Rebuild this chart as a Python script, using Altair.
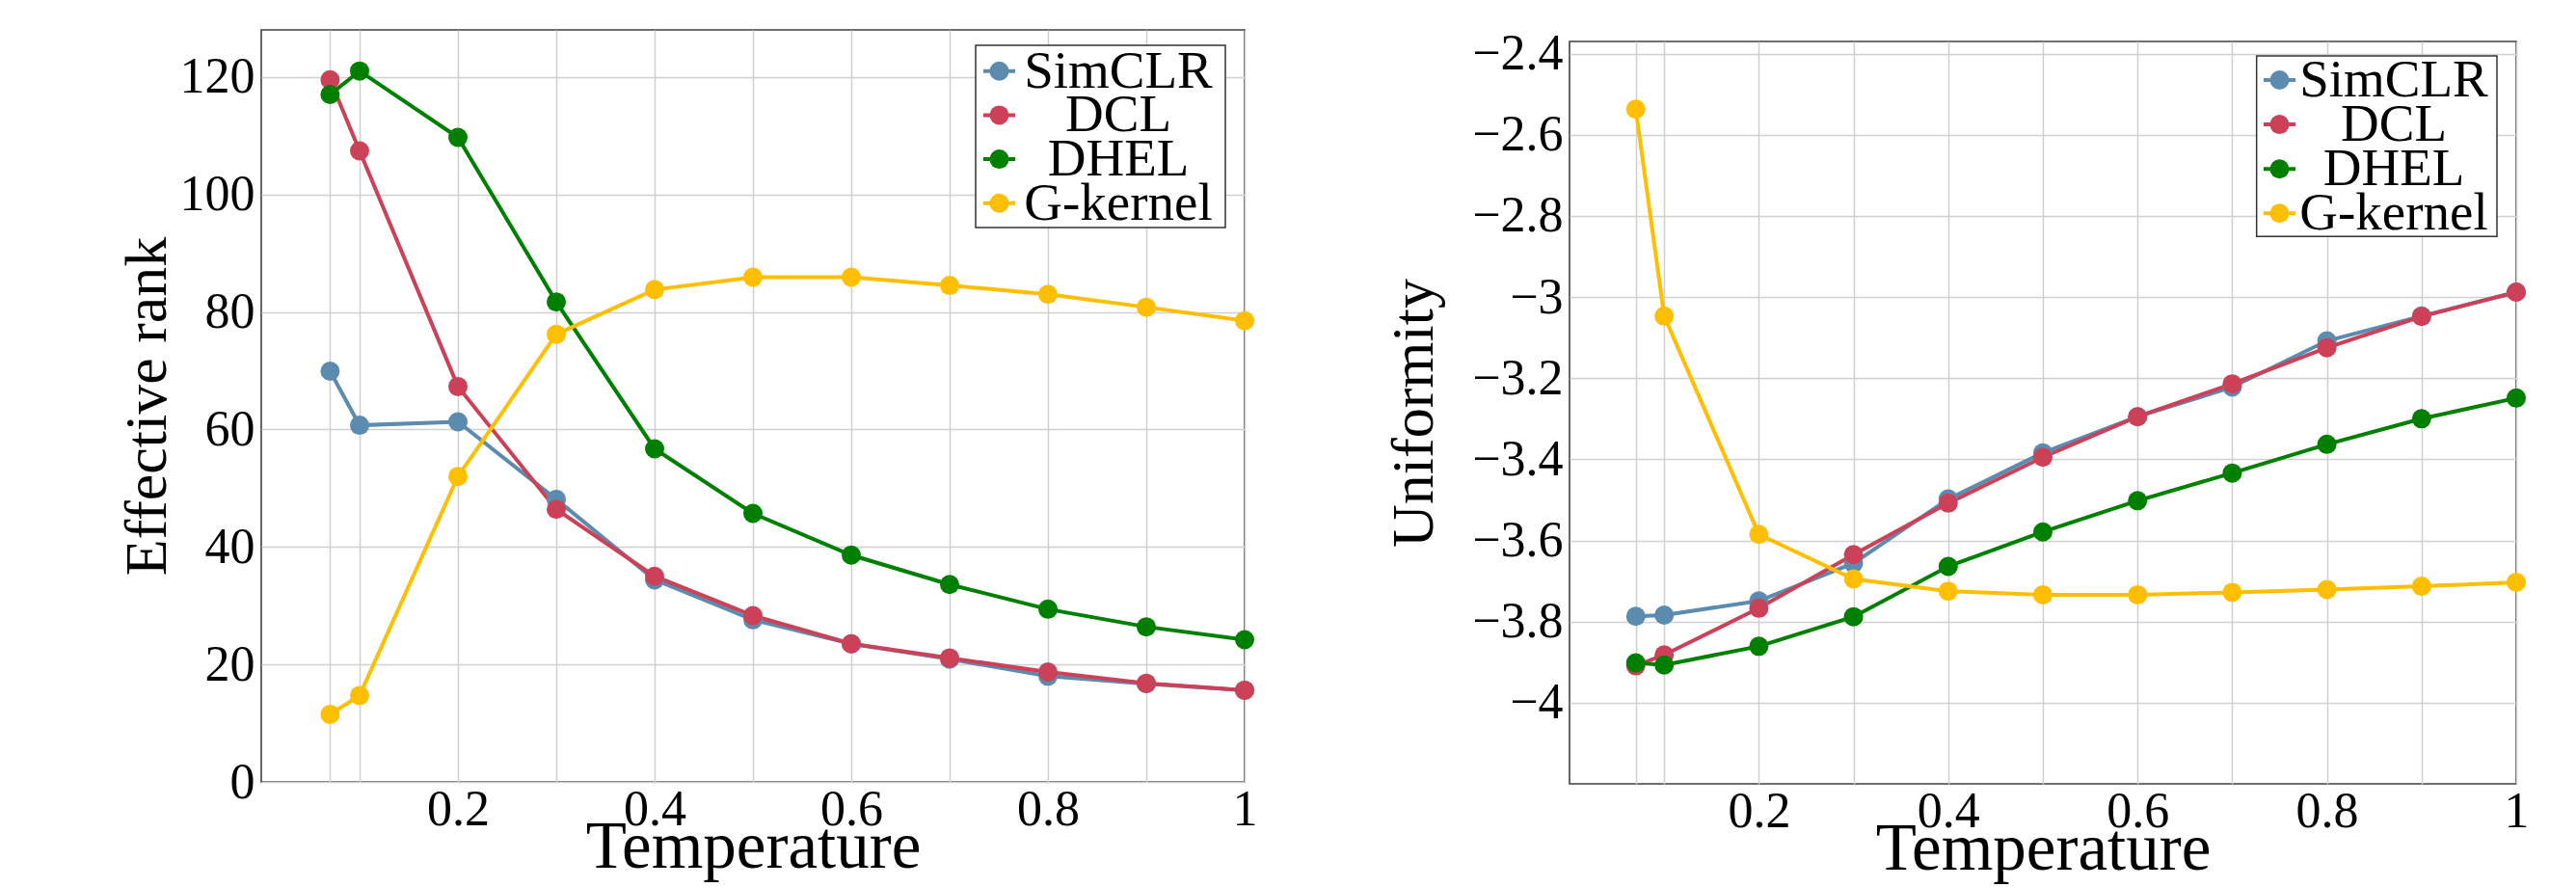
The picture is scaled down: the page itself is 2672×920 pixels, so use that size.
import json
import altair as alt
import pandas as pd

# ---------------- data ----------------
temps = [0.07, 0.1, 0.2, 0.3, 0.4, 0.5, 0.6, 0.7, 0.8, 0.9, 1.0]
methods = ["SimCLR", "DCL", "DHEL", "G-kernel"]
colors = ["#5B8BAE", "#CC4157", "#008000", "#FFBF00"]

rank_simclr = [69.9, 60.7, 61.3, 48.1, 34.4, 27.6, 23.5, 20.9, 18.0, 16.7, 15.6]
rank_dcl = [119.5, 107.4, 67.3, 46.4, 35.0, 28.3, 23.5, 21.1, 18.7, 16.8, 15.6]
rank_dhel = [117.0, 121.0, 109.7, 81.7, 56.7, 45.7, 38.6, 33.6, 29.4, 26.4, 24.2]
rank_gk = [11.5, 14.7, 52.0, 76.2, 83.8, 85.9, 85.9, 84.5, 83.0, 80.8, 78.5]

unif_simclr = [-3.787, -3.784, -3.749, -3.656, -3.498, -3.384, -3.295, -3.222, -3.108, -3.047, -2.988]
unif_dcl = [-3.909, -3.882, -3.767, -3.635, -3.508, -3.395, -3.295, -3.214, -3.125, -3.048, -2.988]
unif_dhel = [-3.902, -3.907, -3.861, -3.788, -3.664, -3.579, -3.502, -3.434, -3.363, -3.300, -3.249]
unif_gk = [-2.537, -3.047, -3.585, -3.695, -3.725, -3.734, -3.734, -3.728, -3.721, -3.713, -3.703]

x_grid = [0.07, 0.1, 0.2, 0.3, 0.4, 0.5, 0.6, 0.7, 0.8, 0.9, 1.0]
x_labels = ["0.2", "0.4", "0.6", "0.8", "1"]
rank_ticks = [0, 20, 40, 60, 80, 100, 120]
unif_ticks = [-4, -3.8, -3.6, -3.4, -3.2, -3, -2.8, -2.6, -2.4]


def long_df(series_list):
    rows = []
    for m, vals in zip(methods, series_list):
        for t, v in zip(temps, vals):
            rows.append({"method": m, "temp": t, "value": v})
    return pd.DataFrame(rows)


rank_df = long_df([rank_simclr, rank_dcl, rank_dhel, rank_gk])
unif_df = long_df([unif_simclr, unif_dcl, unif_dhel, unif_gk])
legend_df = pd.DataFrame({"method": methods})
box_df = pd.DataFrame({"k": [0]})

FONT = "Liberation Serif"
label_expr = (
    "indexof(" + json.dumps(x_labels) + ", format(datum.value, '.2~f')) >= 0"
    " ? format(datum.value, '.2~f') : ''"
)

color_scale = alt.Scale(domain=methods, range=colors)


def legend_layer(box, line_x, rows, label_x):
    """In-plot legend placed in pixel coordinates of the plot area."""
    ysc = alt.Y(
        "method:N",
        scale=alt.Scale(type="point", domain=methods, range=rows, padding=0),
        axis=None,
    )
    col = alt.Color("method:N", scale=color_scale, legend=None)
    frame = alt.Chart(box_df).mark_rect(
        fill="white", stroke="#333333", strokeWidth=1.5
    ).encode(
        x=alt.value(box[0]), x2=alt.value(box[1]),
        y=alt.value(box[2]), y2=alt.value(box[3]),
    )
    rules = alt.Chart(legend_df).mark_rule(strokeWidth=4).encode(
        x=alt.value(line_x[0]), x2=alt.value(line_x[1]), y=ysc, color=col
    )
    dots = alt.Chart(legend_df).mark_point(filled=True, size=400, opacity=1).encode(
        x=alt.value((line_x[0] + line_x[1]) / 2), y=ysc, color=col
    )
    texts = alt.Chart(legend_df).mark_text(
        font=FONT, fontSize=55, align="center", baseline="middle", color="black"
    ).encode(x=alt.value(label_x), y=ysc, text="method:N")
    return alt.layer(frame, rules, dots, texts)


def panel(df, ytitle, ydomain, yvalues, yformat, width, height, title_x, leg):
    base = alt.Chart(df).encode(
        x=alt.X(
            "temp:Q",
            scale=alt.Scale(domain=[0, 1], nice=False, zero=False),
            axis=alt.Axis(
                values=x_grid,
                labelExpr=label_expr,
                title="Temperature",
                titleFontSize=69,
                titleY=88,
                titleBaseline="alphabetic",
                labelPadding=3,
                labelOverlap=False,
                labelFlush=False,
            ),
        ),
        y=alt.Y(
            "value:Q",
            scale=alt.Scale(domain=ydomain, nice=False, zero=False),
            axis=alt.Axis(
                values=yvalues,
                format=yformat,
                title=ytitle,
                titleX=title_x,
                titleBaseline="alphabetic",
                labelPadding=7,
                labelOverlap=False,
                labelFlush=False,
            ),
        ),
        color=alt.Color("method:N", scale=color_scale, legend=None),
    )
    line = base.mark_line(strokeWidth=4)
    pts = base.mark_point(filled=True, size=400, opacity=1)
    data_layer = alt.layer(line, pts)
    return (
        alt.layer(data_layer, legend_layer(*leg))
        .resolve_scale(y="independent")
        .properties(width=width, height=height)
    )


left = panel(
    rank_df, "Effective rank", [0, 128], rank_ticks, "d", 1020, 780, -100,
    ((741, 1000, 16, 205), (749, 782), [42.7, 179.8], 889),
)
right = panel(
    unif_df, "Uniformity", [-4.2, -2.37], unif_ticks, ".1~f", 982, 770, -143,
    ((712.7, 962, 15, 202.3), (720, 753), [40.0, 178.3], 855),
)

spacer = (
    alt.Chart(pd.DataFrame({"v": [0]}))
    .mark_point(opacity=0)
    .encode(x=alt.X("v:Q", axis=None), y=alt.Y("v:Q", axis=None))
    .properties(width=982, height=1, view=alt.ViewBackground(strokeOpacity=0))
)

right_col = alt.vconcat(spacer, right, spacing=11, bounds="flush")

chart = (
    alt.hconcat(left, right_col, spacing=337, bounds="flush")
    .properties(padding={"left": 112, "top": 20, "right": 5, "bottom": 5})
    .configure_axis(
        labelFont=FONT,
        labelFontSize=52,
        labelColor="black",
        titleFont=FONT,
        titleFontSize=62,
        titleFontWeight="normal",
        titleColor="black",
        grid=True,
        gridColor="#d0d0d0",
        gridWidth=1.5,
        domain=False,
        ticks=False,
        tickSize=0,
    )
    .configure_view(stroke="#404040", strokeWidth=1.6)
)

chart.save("out.html", embed_options={"renderer": "svg", "actions": False})
